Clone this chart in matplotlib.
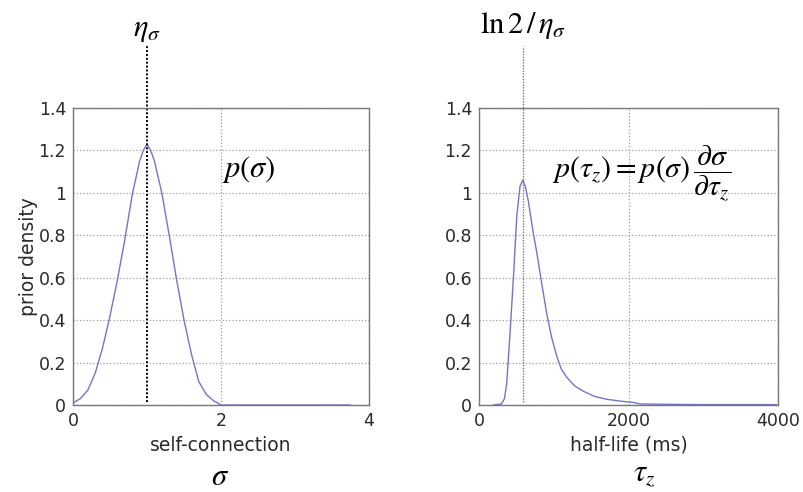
import matplotlib.pyplot as plt

plt.rcParams['mathtext.fontset'] = 'stix'
plt.rcParams['font.family'] = 'DejaVu Sans'

# prior density of the self-connection sigma
sigma = [0.0, 0.1, 0.2, 0.3, 0.4, 0.5, 0.6, 0.7, 0.8, 0.9, 0.95, 1.0, 1.05,
         1.1, 1.2, 1.3, 1.4, 1.5, 1.6, 1.7, 1.8, 1.9, 2.0, 2.5, 3.0, 3.5, 3.75]
p_sigma = [0.01, 0.03, 0.07, 0.15, 0.27, 0.42, 0.59, 0.78, 0.99, 1.15, 1.20,
           1.23, 1.20, 1.15, 1.00, 0.80, 0.59, 0.40, 0.24, 0.11, 0.05, 0.02,
           0.0, 0.0, 0.0, 0.0, 0.0]

# prior density of the half-life tau_z (ms)
tau = [190, 300, 340, 370, 415, 460, 480, 505, 548, 585, 620, 660, 726, 772,
       840, 906, 970, 1040, 1100, 1175, 1280, 1395, 1550, 1710, 1900, 2065,
       2155, 2600, 3000, 3500, 3980]
p_tau = [0.0, 0.005, 0.03, 0.10, 0.34, 0.60, 0.73, 0.89, 1.03, 1.06, 1.03,
         0.96, 0.81, 0.72, 0.57, 0.43, 0.32, 0.23, 0.17, 0.13, 0.09, 0.065,
         0.04, 0.027, 0.018, 0.012, 0.005, 0.003, 0.002, 0.002, 0.002]

eta_sigma = 1.0
tau_mode = 590

y_ticks = [0, 0.2, 0.4, 0.6, 0.8, 1, 1.2, 1.4]
y_labels = ['0', '0.2', '0.4', '0.6', '0.8', '1', '1.2', '1.4']

line_col = '#7474c8'
grid_col = '#a0a0a0'
text_col = '#2a2a2a'

fig = plt.figure(figsize=(8.04, 4.92), dpi=100)
ax1 = fig.add_axes([0.0908, 0.1768, 0.3682, 0.6037])
ax2 = fig.add_axes([0.5958, 0.1768, 0.3719, 0.6037])


def style_axes(ax, xlim, xticks, xlabels):
    ax.set_xlim(xlim)
    ax.set_ylim(0, 1.4)
    ax.set_xticks(xticks)
    ax.set_xticklabels(xlabels)
    ax.set_yticks(y_ticks)
    ax.set_yticklabels(y_labels)
    ax.tick_params(length=0, labelsize=12.5, labelcolor=text_col, pad=5)
    for s in ax.spines.values():
        s.set_color('#777777')
        s.set_linewidth(1.0)
    ax.grid(True, color=grid_col, linestyle=':', linewidth=0.9)
    ax.set_axisbelow(True)


# left panel
style_axes(ax1, (0, 4), [0, 2, 4], ['0', '2', '4'])
ax1.plot(sigma, p_sigma, color=line_col, lw=1.0)
ax1.plot([eta_sigma, eta_sigma], [0.015, 1.69], color='black',
         linestyle=(0, (1, 1)), lw=1.4, clip_on=False)
ax1.text(eta_sigma, 1.77, r'$\eta_\sigma$', ha='center', va='center',
         fontsize=22)
ax1.text(2.37, 1.11, r'$p(\sigma)$', ha='center', va='center', fontsize=22)
ax1.set_xlabel('self-connection', fontsize=13.5, color=text_col, labelpad=4)
ax1.set_ylabel('prior density', fontsize=13.5, color=text_col, labelpad=0)
fig.text(0.274, 0.032, r'$\sigma$', ha='center', va='center', fontsize=22)

# right panel
style_axes(ax2, (0, 4000), [0, 2000, 4000], ['0', '2000', '4000'])
ax2.plot(tau, p_tau, color=line_col, lw=1.0)
ax2.plot([tau_mode, tau_mode], [0.015, 1.69], color='#777777',
         linestyle=(0, (1, 1)), lw=1.0, clip_on=False)
ax2.text(tau_mode, 1.79, r'$\mathrm{ln}\,2\,/\,\eta_\sigma$', ha='center',
         va='center', fontsize=22)
ax2.text(2170, 1.09,
         r'$p(\tau_z) = p(\sigma)\,\dfrac{\partial\sigma}{\partial\tau_z}$',
         ha='center', va='center', fontsize=21.5)
ax2.set_xlabel('half-life (ms)', fontsize=13.5, color=text_col, labelpad=4)
fig.text(0.802, 0.036, r'$\tau_z$', ha='center', va='center', fontsize=22)

fig.savefig('out.png', dpi=100)
